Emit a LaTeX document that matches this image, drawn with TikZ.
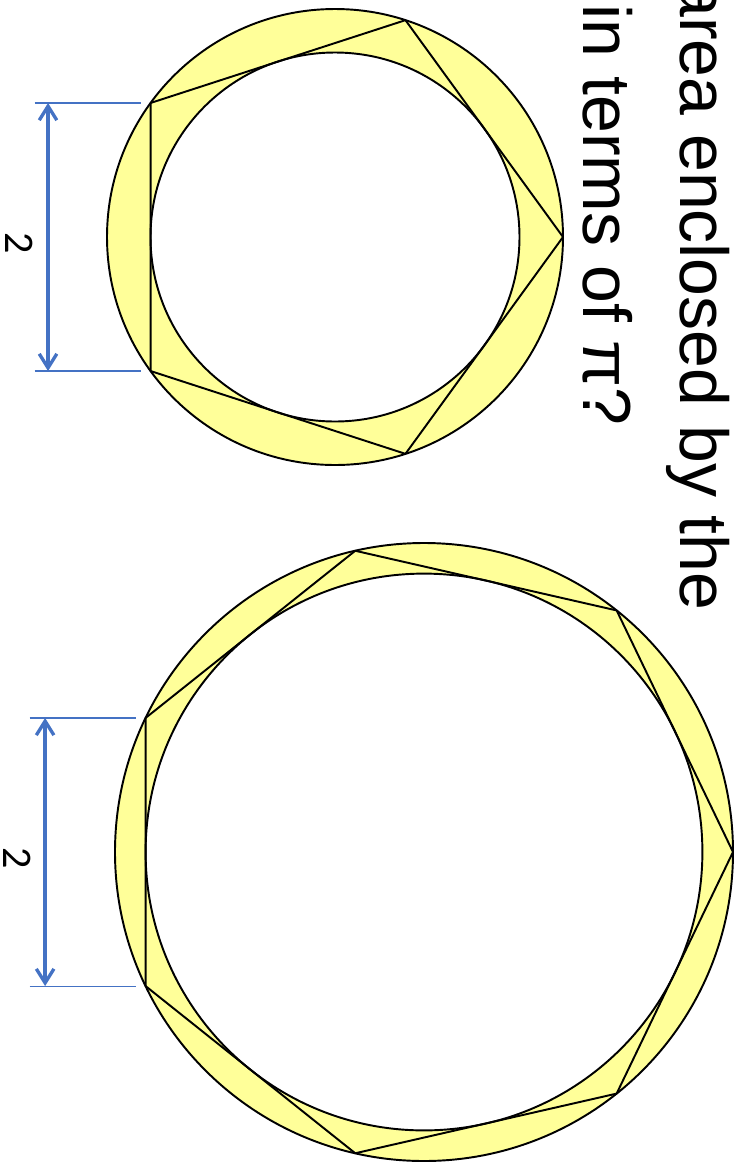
\documentclass[tikz,border=0pt]{standalone}
\usepackage{fontspec}
\setmainfont{Liberation Sans}
\newfontfamily\labelfont{Carlito}
\usetikzlibrary{arrows.meta,calc}
\definecolor{ringyellow}{RGB}{255,255,153}
\definecolor{dimblue}{RGB}{68,114,196}

\begin{document}
\begin{tikzpicture}[x=0.02cm, y=-0.02cm,
    ring/.style={draw=black, line width=1.1pt, line join=round},
    extline/.style={dimblue, line width=0.65pt},
    dimarrow/.style={dimblue, line width=1.9pt,
      {Straight Barb[length=8pt,width=10pt]}-{Straight Barb[length=8pt,width=10pt]}},
    dimlabel/.style={font=\labelfont\fontsize{24}{28}\selectfont, rotate=-90, inner sep=0pt},
    question/.style={font=\fontsize{38.7}{46}\selectfont, rotate=-90, inner sep=0pt, anchor=base east}]

    % Picture frame
    \useasboundingbox (0,0) rectangle (740,1171);
    \clip (0,0) rectangle (740,1171);

    % Question text (rotated)
    \node[question] (line1) at (680,611) {area enclosed by the};
    \node[question] (line2) at (583,426) {in terms of π?};

    % Top ring with pentagon
    \coordinate (pc) at (335,237);
    \fill[ringyellow] (pc) circle[radius=228];
    \fill[white] (pc) circle[radius=184.5];
    \draw[ring] (pc) circle[radius=228];
    \draw[ring] (pc) circle[radius=184.5];
    \foreach \i in {0,...,4}{
      \coordinate (p\i) at ($(pc)+(\i*72:228)$);
    }
    \draw[ring] (p0) \foreach \i in {1,...,4}{ -- (p\i)} -- cycle;

    % Bottom ring with heptagon
    \coordinate (hc) at (424,852);
    \fill[ringyellow] (hc) circle[radius=309];
    \fill[white] (hc) circle[radius=278.4];
    \draw[ring] (hc) circle[radius=309];
    \draw[ring] (hc) circle[radius=278.4];
    \foreach \i in {0,...,6}{
      \coordinate (h\i) at ($(hc)+(\i*360/7:309)$);
    }
    \draw[ring] (h0) \foreach \i in {1,...,6}{ -- (h\i)} -- cycle;

    % Dimension of the pentagon side
    \coordinate (pe1) at ($(p3)+(-116,0)$);
    \coordinate (pe2) at ($(p3)+(-9.5,0)$);
    \coordinate (pe3) at ($(p2)+(-116,0)$);
    \coordinate (pe4) at ($(p2)+(-9.5,0)$);
    \coordinate (pa) at ($(p3)+(-102.5,0)$);
    \coordinate (pb) at ($(p2)+(-102.5,0)$);
    \draw[extline] (pe1) -- (pe2);
    \draw[extline] (pe3) -- (pe4);
    \draw[dimarrow] (pa) -- (pb);
    \node[dimlabel] (pside) at ($(pa)!0.5!(pb)+(-29,6)$) {2};

    % Dimension of the heptagon side
    \coordinate (he1) at ($(h4)+(-116,0)$);
    \coordinate (he2) at ($(h4)+(-9.5,0)$);
    \coordinate (he3) at ($(h3)+(-116,0)$);
    \coordinate (he4) at ($(h3)+(-9.5,0)$);
    \coordinate (ha) at ($(h4)+(-100.5,0)$);
    \coordinate (hb) at ($(h3)+(-100.5,0)$);
    \draw[extline] (he1) -- (he2);
    \draw[extline] (he3) -- (he4);
    \draw[dimarrow] (ha) -- (hb);
    \node[dimlabel] (hside) at ($(ha)!0.5!(hb)+(-28,6)$) {2};

\end{tikzpicture}
\end{document}
